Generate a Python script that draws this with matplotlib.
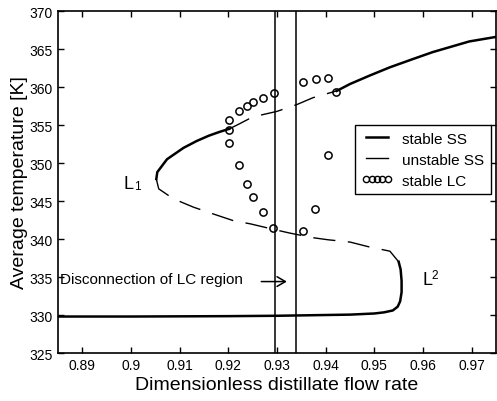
import matplotlib
matplotlib.use("Agg")
import matplotlib.pyplot as plt
from matplotlib.lines import Line2D

plt.rcParams['font.family'] = ['Liberation Sans', 'DejaVu Sans']

# lower stable steady-state branch (up to turning point L2)
low_x = [0.885, 0.900, 0.920, 0.930, 0.940, 0.945, 0.950, 0.952, 0.9538, 0.9548, 0.9553,
         0.9556, 0.9556, 0.9554, 0.9550]
low_y = [329.8, 329.8, 329.85, 329.9, 330.0, 330.05, 330.2, 330.35, 330.6, 331.1, 331.8,
         333.0, 334.5, 336.0, 337.0]

# middle unstable branch, from L2 back to L1
mid_x = [0.9550, 0.9532, 0.9487, 0.9450, 0.9405, 0.9371, 0.9325, 0.9291, 0.9245, 0.9211,
         0.9169, 0.9128, 0.9087, 0.9057, 0.9052]
mid_y = [337.0, 338.4, 339.0, 339.6, 339.9, 340.2, 340.8, 341.3, 342.0, 342.4,
         343.3, 344.2, 345.3, 346.6, 347.9]

# upper branch: stable from L1, unstable between the Hopf points, stable again
up1_x = [0.9052, 0.9054, 0.9074, 0.9108, 0.9135, 0.9160, 0.9182, 0.9202]
up1_y = [347.9, 348.8, 350.5, 352.0, 352.9, 353.6, 354.1, 354.5]
up2_x = [0.9202, 0.9221, 0.9245, 0.9266, 0.9300, 0.9341, 0.9374, 0.9423]
up2_y = [354.5, 355.1, 355.9, 356.3, 356.8, 357.7, 358.6, 359.5]
up3_x = [0.9423, 0.9450, 0.9490, 0.9532, 0.9580, 0.9620, 0.9695, 0.9750]
up3_y = [359.5, 360.4, 361.5, 362.6, 363.7, 364.6, 366.0, 366.6]

# stable limit cycle amplitudes (max / min)
lc_x = [0.9202, 0.9202, 0.9221, 0.9238, 0.9250, 0.9272, 0.9293, 0.9354, 0.9380, 0.9404, 0.9421,
        0.9202, 0.9221, 0.9238, 0.9250, 0.9271, 0.9291, 0.9353, 0.9378, 0.9404]
lc_y = [354.3, 355.7, 356.8, 357.5, 358.0, 358.6, 359.2, 360.6, 361.1, 361.2, 359.4,
        352.6, 349.7, 347.3, 345.5, 343.5, 341.4, 341.1, 343.9, 351.0]

# borders of the disconnected LC region
split_x = [0.9295, 0.9340]

xticks = [0.89, 0.90, 0.91, 0.92, 0.93, 0.94, 0.95, 0.96, 0.97]
xticklabels = ['0.89', '0.9', '0.91', '0.92', '0.93', '0.94', '0.95', '0.96', '0.97']
yticks = [325, 330, 335, 340, 345, 350, 355, 360, 365, 370]

fig = plt.figure(figsize=(4.97, 4.02), dpi=100)
ax = fig.add_axes([0.1167, 0.1194, 0.8813, 0.8506])

dash = (16, 9)
ax.plot(low_x, low_y, color='black', lw=1.8)
ax.plot(mid_x, mid_y, color='black', lw=1.0, dashes=dash)
ax.plot(up1_x, up1_y, color='black', lw=1.8)
ax.plot(up2_x, up2_y, color='black', lw=1.0, dashes=dash)
ax.plot(up3_x, up3_y, color='black', lw=1.8)
ax.plot(lc_x, lc_y, 'o', color='black', mfc='none', ms=5.2, mew=1.1)

for xv in split_x:
    ax.axvline(xv, color='black', lw=1.1)

ax.text(0.8855, 334.75, 'Disconnection of LC region', fontsize=11, va='center', ha='left')
ax.annotate('', xy=(0.9326, 334.4), xytext=(0.9262, 334.4),
            arrowprops=dict(arrowstyle='->,head_length=0.6,head_width=0.35', lw=1.1, color='black'))

ax.text(0.8985, 347.3, 'L', fontsize=13, va='center', ha='left')
ax.text(0.9007, 347.0, '1', fontsize=8.5, va='center', ha='left')
ax.text(0.9598, 334.7, 'L', fontsize=13, va='center', ha='left')
ax.text(0.9617, 335.2, '2', fontsize=8.5, va='center', ha='left')

ax.set_xlim(0.885, 0.975)
ax.set_ylim(325, 370)
ax.set_xticks(xticks)
ax.set_xticklabels(xticklabels)
ax.set_yticks(yticks)
ax.tick_params(direction='in', top=True, right=True, length=4, width=1, labelsize=10)
for s in ax.spines.values():
    s.set_linewidth(1.2)

ax.set_xlabel('Dimensionless distillate flow rate', fontsize=14, labelpad=3)
ax.set_ylabel('Average temperature [K]', fontsize=14, labelpad=1)

handles = [Line2D([], [], color='black', lw=1.8),
           Line2D([], [], color='black', lw=1.0),
           Line2D([], [], color='black', lw=0, marker='o', mfc='none', ms=4.5, mew=1.0)]
leg = ax.legend(handles, ['stable SS', 'unstable SS', 'stable LC'], loc='upper left',
                bbox_to_anchor=(0.678, 0.667), fontsize=11, numpoints=5, handlelength=2.0,
                handletextpad=0.6, labelspacing=0.45, borderpad=0.45, fancybox=False,
                framealpha=1, edgecolor='black', borderaxespad=0)
leg.get_frame().set_linewidth(1.0)

fig.savefig('out.png', dpi=100)
